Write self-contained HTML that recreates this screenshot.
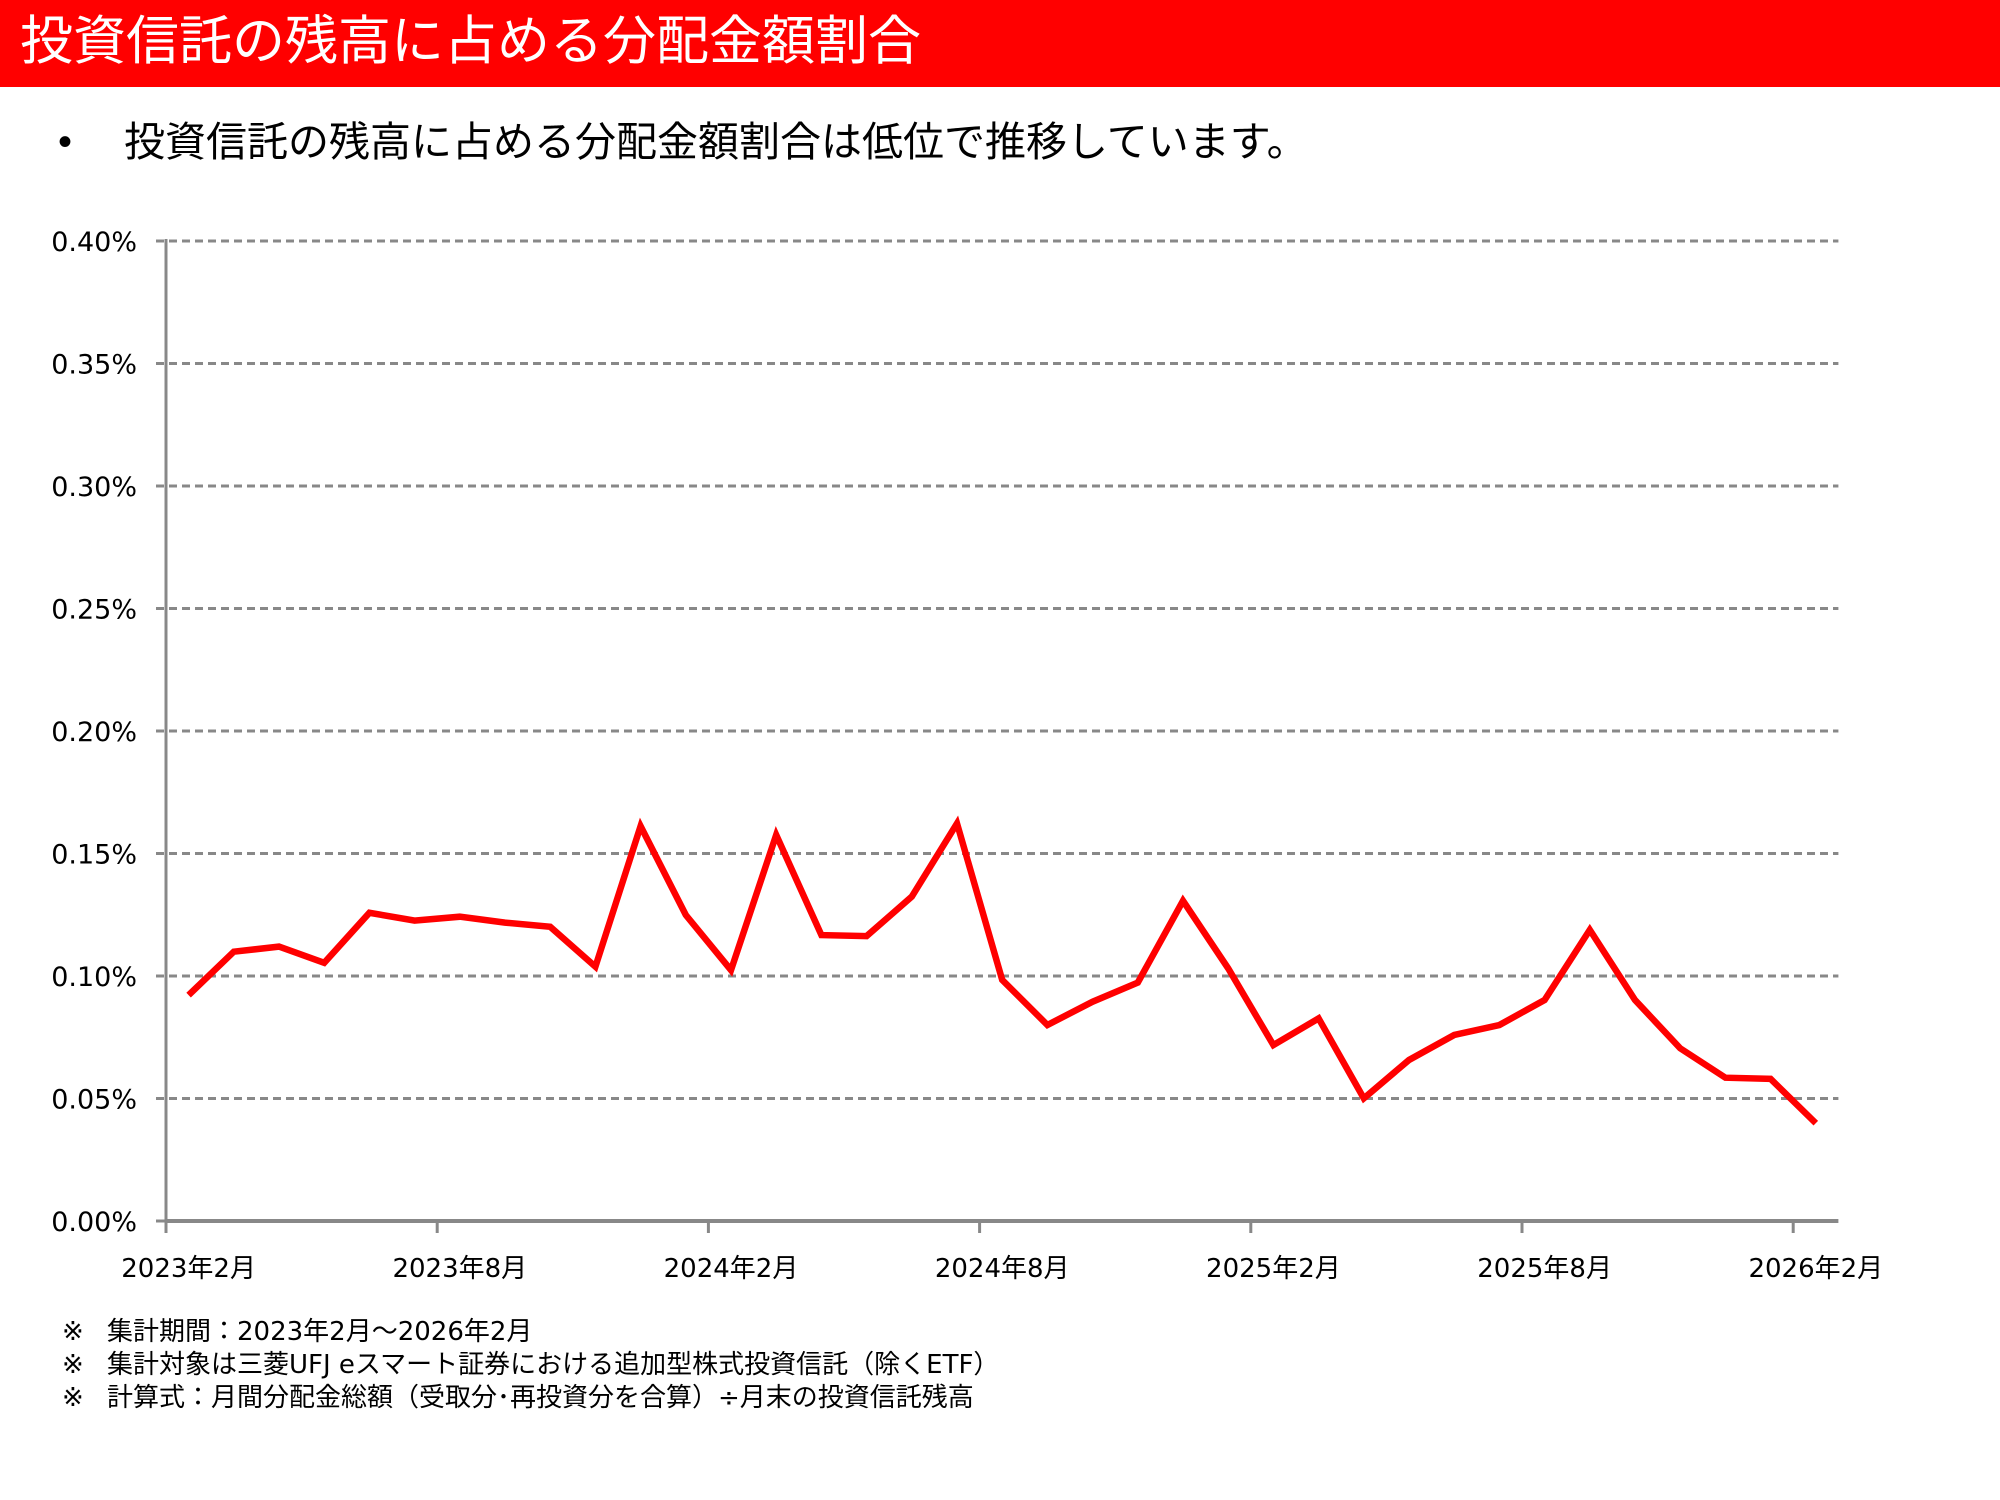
<!DOCTYPE html>
<html><head><meta charset="utf-8"><style>
html,body{margin:0;padding:0;background:#fff;}
body{width:2000px;height:1500px;overflow:hidden;position:relative;font-family:"Liberation Sans","Noto Sans CJK JP",sans-serif;}
.hdr{position:absolute;left:0;top:0;width:2000px;height:87px;background:#ff0000;}
.title{position:absolute;left:20px;top:7px;font-size:53px;color:#fff;white-space:nowrap;line-height:70px;}
.sub{position:absolute;left:124px;top:114px;font-size:41px;color:#000;white-space:nowrap;line-height:56px;}
.bul{position:absolute;left:58px;top:114px;font-size:40px;line-height:56px;}
.note{position:absolute;left:62px;font-size:26px;color:#000;white-space:nowrap;line-height:30px;font-family:"DejaVu Sans","Noto Sans CJK JP",sans-serif;}
.note span{display:inline-block;width:45px;}
</style></head><body>
<div class="hdr"><div class="title">投資信託の残高に占める分配金額割合</div></div>
<div class="bul">•</div>
<div class="sub">投資信託の残高に占める分配金額割合は低位で推移しています。</div>
<svg id="chart" width="2000" height="1500" style="position:absolute;left:0;top:0" xmlns="http://www.w3.org/2000/svg"></svg>
<div class="note" style="top:1317px"><span>※</span>集計期間：2023年2月～2026年2月</div>
<div class="note" style="top:1350px"><span>※</span>集計対象は三菱UFJ eスマート証券における追加型株式投資信託（除くETF）</div>
<div class="note" style="top:1383px"><span>※</span>計算式：月間分配金総額（受取分･再投資分を合算）÷月末の投資信託残高</div>
<script>
const yTicks = [0, 0.05, 0.10, 0.15, 0.20, 0.25, 0.30, 0.35, 0.40];
const yTickLabels = ["0.00%","0.05%","0.10%","0.15%","0.20%","0.25%","0.30%","0.35%","0.40%"];
const xTickLabels = ["2023年2月","2023年8月","2024年2月","2024年8月","2025年2月","2025年8月","2026年2月"];
const values = [0.0922,0.1099,0.112,0.1054,0.1258,0.1226,0.1242,0.1218,0.1201,0.1038,0.1612,0.1249,0.1024,0.1576,0.1167,0.1163,0.1324,0.1623,0.0984,0.080,0.0895,0.0973,0.1307,0.1031,0.0718,0.0827,0.0501,0.0657,0.0759,0.080,0.0902,0.1188,0.0902,0.0705,0.0585,0.058,0.0399];

const NS="http://www.w3.org/2000/svg";
const svg=document.getElementById('chart');
const X0=166, STEP=45.2, Y0=1221, YMAX=0.40, YH=980;
const n=values.length;
const X1=X0+n*STEP;
function xPos(i){return X0+STEP/2+i*STEP;}
function yPos(v){return Y0-v/YMAX*YH;}
function mk(tag,attrs){const e=document.createElementNS(NS,tag);for(const k in attrs)e.setAttribute(k,attrs[k]);svg.appendChild(e);return e;}

yTicks.forEach((t,i)=>{
  const y=yPos(t);
  if(t>0){
    const g=mk('line',{x1:156,x2:X1,y1:y,y2:y,stroke:'#888',"stroke-width":3,"stroke-dasharray":"8 5"});
    
    
  } else {
    const tk=mk('line',{x1:156,x2:X0,y1:y,y2:y,stroke:'#888',"stroke-width":3});
    
    
  }
  const tx=mk('text',{x:137,y:y+10,"text-anchor":"end","font-size":27,"font-family":"DejaVu Sans, sans-serif",fill:'#000'});
  tx.textContent=yTickLabels[i];
  
  
});
const ya=mk('line',{x1:X0,x2:X0,y1:yPos(0.40)-2,y2:Y0+1,stroke:'#888',"stroke-width":3});


const xa=mk('line',{x1:X0,x2:X1,y1:Y0,y2:Y0,stroke:'#888',"stroke-width":4});


xTickLabels.forEach((lab,k)=>{
  const i=k*6;
  const tx0=X0+i*STEP;
  const tk=mk('line',{x1:tx0,x2:tx0,y1:Y0,y2:Y0+12,stroke:'#888',"stroke-width":3});
  
  
  const t=mk('text',{x:xPos(i),y:1277,"text-anchor":"middle","font-size":26,"font-family":"DejaVu Sans, Noto Sans CJK JP, sans-serif",fill:'#000'});
  t.textContent=lab;
  
  
});
const pts=values.map((v,i)=>xPos(i).toFixed(1)+','+yPos(v).toFixed(1)).join(' ');
const line=mk('polyline',{points:pts,fill:'none',stroke:'#ff0000',"stroke-width":6.5,"stroke-linejoin":"miter"});


</script>
</body></html>
